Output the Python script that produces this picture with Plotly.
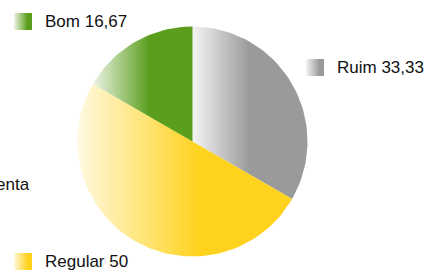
import math
import plotly.graph_objects as go

# ---- data ----
categories = ["Ruim", "Regular", "Bom"]
values = [33.33, 50, 16.67]
value_labels = ["33,33", "50", "16,67"]
title_fragment = "enta"

# ---- styles / layout ----
W, H = 430, 272
colors = ["#9a9a9a", "#ffd21e", "#5a9e1c"]
light = ["#f4f4f4", "#fff9e0", "#eef4e6"]
full_at = [0.5, 0.57, 0.57]
cx, cy, r = 192.5, 141.5, 115.0
legend_boxes = {  # x0, y0 (top-left pixel)
    "Ruim": (306, 59),
    "Regular": (14, 253),
    "Bom": (14, 13),
}
box_w, box_h = 18, 17
font = dict(family="Liberation Sans, Arial, sans-serif", size=17, color="#111111")

fig = go.Figure()

total = sum(values)
start = 0.0
for i, v in enumerate(values):
    a0 = start / total * 2 * math.pi
    a1 = (start + v) / total * 2 * math.pi
    n = max(8, int(200 * v / total))
    xs = [cx]
    ys = [cy]
    for k in range(n + 1):
        t = a0 + (a1 - a0) * k / n
        xs.append(cx + r * math.sin(t))
        ys.append(cy - r * math.cos(t))
    xs.append(cx)
    ys.append(cy)
    fig.add_trace(go.Scatter(
        x=xs, y=ys, mode="lines", fill="toself",
        line=dict(width=0, color=colors[i]),
        fillgradient=dict(type="horizontal",
                          colorscale=[[0, light[i]], [full_at[i], colors[i]], [1, colors[i]]]),
        hoverinfo="skip", showlegend=False,
    ))
    start += v

# legend-like labels
for i, cat in enumerate(categories):
    bx, by = legend_boxes[cat]
    fig.add_trace(go.Scatter(
        x=[bx, bx + box_w, bx + box_w, bx, bx],
        y=[by, by, by + box_h, by + box_h, by],
        mode="lines", fill="toself", line=dict(width=0, color=colors[i]),
        fillgradient=dict(type="horizontal",
                          colorscale=[[0, light[i]], [0.75, colors[i]], [1, colors[i]]]),
        hoverinfo="skip", showlegend=False,
    ))
    fig.add_annotation(x=bx + box_w + 11, y=by + box_h / 2, xref="x", yref="y",
                       text=f"{cat} {value_labels[i]}", showarrow=False,
                       xanchor="left", yanchor="middle", font=font)

fig.add_annotation(x=32, y=184, xref="x", yref="y", text=title_fragment,
                   showarrow=False, xanchor="right", yanchor="middle", font=font)

fig.update_layout(
    width=W, height=H, autosize=False,
    margin=dict(l=0, r=0, t=0, b=0),
    paper_bgcolor="white", plot_bgcolor="white",
    xaxis=dict(range=[0, W], visible=False, fixedrange=True),
    yaxis=dict(range=[H, 0], visible=False, fixedrange=True),
)

fig.write_html("out.html", config={"displayModeBar": False},
               post_script="document.body.style.margin='0';document.body.style.overflow='hidden';")
